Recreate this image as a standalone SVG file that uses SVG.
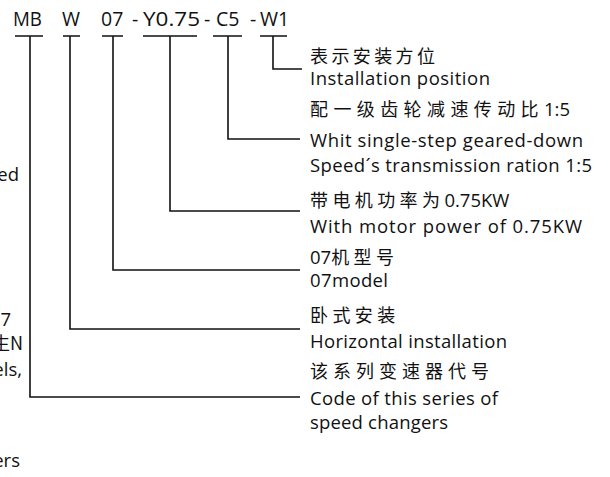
<svg xmlns="http://www.w3.org/2000/svg" width="610" height="477" viewBox="0 0 610 477">
<style>
.en{font-family:"Open Sans","Noto Sans",sans-serif;font-size:18.5px;fill:#111}
.cn{font-family:"Noto Sans CJK SC","Noto Sans",sans-serif;font-size:18px;fill:#111;letter-spacing:4.4px}
.lat{font-family:"Open Sans","Noto Sans",sans-serif;font-size:18.5px;letter-spacing:0}
.code{font-family:"Open Sans","Noto Sans",sans-serif;font-size:19.5px;fill:#111}
.ln{stroke:#111;stroke-width:1.6;fill:none}
</style>
<rect width="610" height="477" fill="#fff"/>
<g id="code">
<text class="code" y="26"><tspan x="13" textLength="29" lengthAdjust="spacingAndGlyphs">MB</tspan><tspan x="62">W</tspan><tspan x="101">07</tspan><tspan x="132">-</tspan><tspan x="143" textLength="57" lengthAdjust="spacingAndGlyphs">Y0.75</tspan><tspan x="204">-</tspan><tspan x="216">C5</tspan><tspan x="250">-</tspan><tspan x="260">W1</tspan></text>
</g>
<g id="connectors">
<path class="ln" d="M15 36H43M30 36V397H300"/>
<path class="ln" d="M63 36H80M70 36V329H300"/>
<path class="ln" d="M102 36H123M113 36V270H300"/>
<path class="ln" d="M143 36H197M170 36V211H300"/>
<path class="ln" d="M213 36H242M228 36V139H300"/>
<path class="ln" d="M260 36H287M273 36V69H302"/>
</g>
<g id="w1">
<text class="cn" x="310" y="63" style="letter-spacing:3.4px">表示安装方位</text>
<text class="en" x="310" y="85" textLength="180" lengthAdjust="spacing">Installation position</text>
</g>
<g id="c5">
<text class="cn" x="310" y="116" style="letter-spacing:5.4px">配一级齿轮减速传动比<tspan class="lat">1:5</tspan></text>
<text class="en" x="310" y="147" textLength="273" lengthAdjust="spacing">Whit single-step geared-down</text>
<text class="en" x="310" y="172" textLength="282" lengthAdjust="spacing">Speed´s transmission ration 1:5</text>
</g>
<g id="y075">
<text class="cn" x="310" y="207">带电机功率为<tspan class="lat">0.75KW</tspan></text>
<text class="en" x="310" y="233" textLength="272" lengthAdjust="spacing">With motor power of 0.75KW</text>
</g>
<g id="m07">
<text class="cn" x="310" y="264"><tspan class="lat">07</tspan>机型号</text>
<text class="en" x="310" y="287" textLength="78" lengthAdjust="spacing">07model</text>
</g>
<g id="w">
<text class="cn" x="310" y="322">卧式安装</text>
<text class="en" x="310" y="348" textLength="197" lengthAdjust="spacing">Horizontal installation</text>
</g>
<g id="mb">
<text class="cn" x="310" y="378" style="letter-spacing:5px">该系列变速器代号</text>
<text class="en" x="310" y="405" textLength="188" lengthAdjust="spacing">Code of this series of</text>
<text class="en" x="310" y="429" textLength="138" lengthAdjust="spacing">speed changers</text>
</g>
<g id="left-fragments">
<text class="en" x="19" y="181" text-anchor="end">ed</text>
<text class="en" x="11" y="326" text-anchor="end">7</text>
<text class="cn" x="23" y="350" text-anchor="end" style="letter-spacing:0">生N</text>
<text class="en" x="22" y="376" text-anchor="end">els,</text>
<text class="en" x="20" y="467" text-anchor="end">ers</text>
</g>
</svg>
